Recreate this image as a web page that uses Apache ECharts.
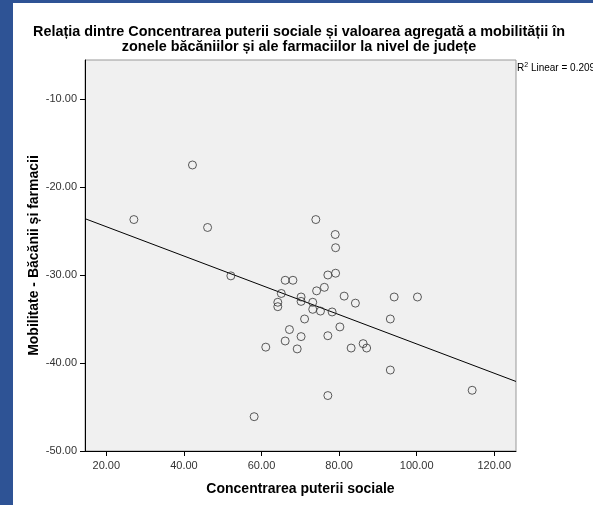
<!DOCTYPE html>
<html><head><meta charset="utf-8">
<script src="https://cdn.jsdelivr.net/npm/echarts@6/dist/echarts.min.js"></script>
<style>html,body{margin:0;padding:0;background:#fff}#c{width:593px;height:505px}</style>
</head><body><div id="c"></div>
<script>
const titleLines = ["Relația dintre Concentrarea puterii sociale și valoarea agregată a mobilității în", "zonele băcăniilor și ale farmaciilor la nivel de județe"];
const xName = "Concentrarea puterii sociale";
const yName = "Mobilitate - Băcănii și farmacii";
const xTicks = [20, 40, 60, 80, 100, 120];
const yTicks = [-50, -40, -30, -20, -10];
const xValues = [27.1, 42.2, 46.1, 52.1, 58.1, 61.1, 64.2, 64.2, 65.1, 66.1, 68.1, 66.1, 67.2, 69.2, 70.2, 70.2, 70.2, 71.1, 73.2, 73.2, 74.2, 75.2, 76.2, 77.1, 79.1, 79.1, 77.1, 78.2, 77.1, 80.2, 81.3, 83.1, 84.2, 86.2, 87.1, 93.2, 93.2, 94.2, 100.2, 114.3, 74.0, 79.0];
const yValues = [-23.7, -17.5, -24.6, -30.1, -46.1, -38.2, -33.1, -33.6, -32.1, -30.6, -30.6, -37.5, -36.2, -38.4, -32.5, -33.0, -37.0, -35.0, -33.1, -33.9, -31.8, -34.1, -31.4, -30.0, -29.8, -26.9, -36.9, -34.2, -43.7, -35.9, -32.4, -38.3, -33.2, -37.8, -38.3, -35.0, -40.8, -32.5, -32.5, -43.1, -23.7, -25.4];
const fitX = [14.5, 125.6];
const fitY = [-23.6, -42.1];
const r2Text = "0.209";

const chart = echarts.init(document.getElementById('c'), null, {renderer: 'canvas'});
const FONT = '"Liberation Sans", Arial, sans-serif';
chart.setOption({
  animation: false,
  backgroundColor: '#ffffff',
  graphic: [
    {type: 'rect', left: 0, top: 0, shape: {width: 13, height: 505}, style: {fill: '#2E5395'}},
    {type: 'rect', left: 0, top: 0, shape: {width: 593, height: 3}, style: {fill: '#2E5395'}},
    {type: 'text', left: 517, top: 62, style: {
      text: '{n|R}{s|2}{n| Linear = ' + r2Text + '}',
      rich: {n: {fontSize: 10, fontFamily: FONT, fill: '#000'}, s: {fontSize: 7, fontFamily: FONT, fill: '#000', verticalAlign: 'top', padding: [0,0,5,0]}}
    }}
  ],
  title: {
    text: titleLines.join('\n'), left: 294, top: 20, textAlign: 'center',
    textStyle: {fontFamily: FONT, fontSize: 14.4, fontWeight: 'bold', color: '#000', lineHeight: 15}
  },
  grid: {left: 85, top: 60, width: 431, height: 391, show: true, backgroundColor: '#F0F0F0', borderColor: '#999', borderWidth: 1},
  xAxis: {
    type: 'value', min: 14.5, max: 125.6,
    name: xName, nameLocation: 'middle', nameGap: 31, nameMoveOverlap: false,
    nameTextStyle: {fontFamily: FONT, fontSize: 14, fontWeight: 'bold', color: '#000'},
    axisLine: {show: true, lineStyle: {color: '#000', width: 1}},
    axisTick: {show: true, length: 5, customValues: xTicks, lineStyle: {color: '#000'}},
    axisLabel: {customValues: xTicks, formatter: v => v.toFixed(2), fontFamily: FONT, fontSize: 11, color: '#333', margin: 9},
    splitLine: {show: false}
  },
  yAxis: {
    type: 'value', min: -50, max: -5.57,
    name: yName, nameLocation: 'middle', nameGap: 44, nameRotate: 90, nameMoveOverlap: false,
    nameTextStyle: {fontFamily: FONT, fontSize: 14, fontWeight: 'bold', color: '#000'},
    axisLine: {show: true, lineStyle: {color: '#000', width: 1}},
    axisTick: {show: true, length: 5, customValues: yTicks, lineStyle: {color: '#000'}},
    axisLabel: {customValues: yTicks, formatter: v => v.toFixed(2), fontFamily: FONT, fontSize: 11, color: '#333', margin: 8},
    splitLine: {show: false}
  },
  series: [
    {type: 'line', data: fitX.map((x, i) => [x, fitY[i]]), symbol: 'none', lineStyle: {color: '#000', width: 1}, z: 2},
    {type: 'scatter', data: xValues.map((x, i) => [x, yValues[i]]), symbol: 'circle', symbolSize: 8,
     itemStyle: {color: 'rgba(0,0,0,0)', borderColor: '#333', borderWidth: 1}, z: 3}
  ]
});
</script></body></html>
